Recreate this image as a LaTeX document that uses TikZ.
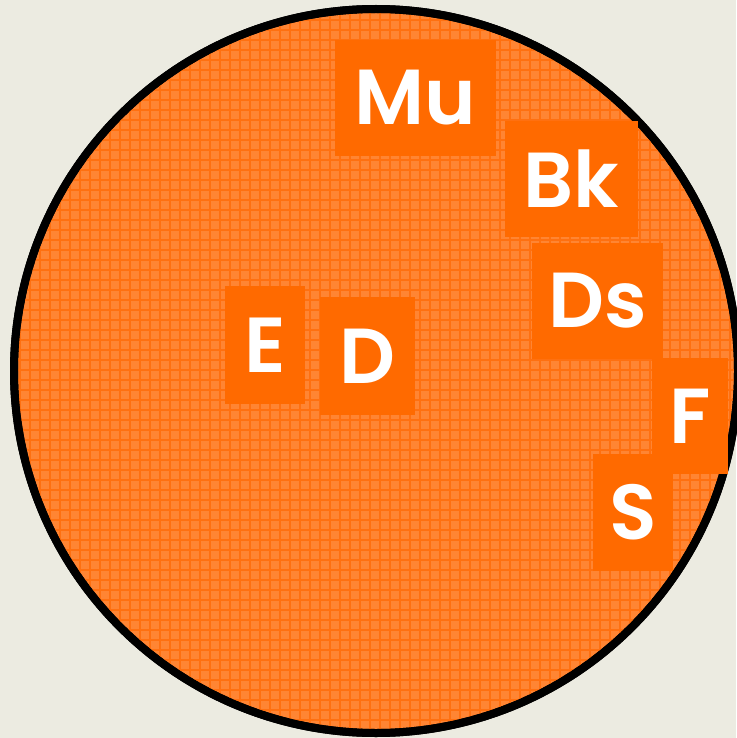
\documentclass[tikz,border=0pt]{standalone}
\usepackage{fontspec}
\setmainfont{Poppins}[BoldFont={Poppins SemiBold}]
\usepackage{tikz}
\usetikzlibrary{positioning}
\definecolor{tlo}{HTML}{ECEBE1}
\definecolor{pomaranczowy}{HTML}{FF6A00}
\definecolor{jasny}{HTML}{FF8533}
\definecolor{siatka}{HTML}{FF7010}

\begin{document}
\begin{tikzpicture}[x=1pt, y=-1pt] % 1 piksel = 1pt, os y w dol
		% Definicja Stylu
		\tikzset{
			box/.style={fill=pomaranczowy, text=white, minimum height=116pt, inner sep=0pt, font=\fontsize{78}{78}\selectfont\bfseries}, % prostokat z litera
			kolo/.style={circle, draw=black, line width=8pt, fill=jasny, minimum size=724pt, inner sep=0pt}
		}
		
		% Tlo obrazka
		\fill[tlo] (0, 0) rectangle (736, 738);
		\useasboundingbox (0, 0) rectangle (736, 738);
		
		% Duze kolo
		\node[kolo] (Kolo) at (376, 371) {};
		
		% Faktura kola - drobna siatka
		\begin{scope}
			\clip (376, 371) circle[radius=358];
			\draw[siatka, line width=1.2pt, step=10pt] (0, 0) grid (736, 738);
		\end{scope}
		\draw[black, line width=8pt] (Kolo.center) circle[radius=362];
		
		% Gora: Mu i Bk
		\node[box, minimum width=161pt] (Mu) at (415.5, 98) {Mu};
		\node[box, minimum width=133pt] (Bk) at (571.5, 179) {Bk};
		
		% Prawa strona: Ds, F, S
		\node[box, minimum width=131pt] (Ds) at (597.5, 300.5) {Ds};
		\node[box, minimum width=76pt] (F) at (690, 416) {F};
		\node[box, minimum width=80pt, minimum height=117pt] (S) at (633, 512.5) {S};
		
		% Srodek: E i D
		\node[box, minimum width=80pt, minimum height=118pt] (E) at (265, 345) {E};
		\node[box, minimum width=95pt, minimum height=118pt] (D) at (367.5, 356) {D};
		
	\end{tikzpicture}
\end{document}
